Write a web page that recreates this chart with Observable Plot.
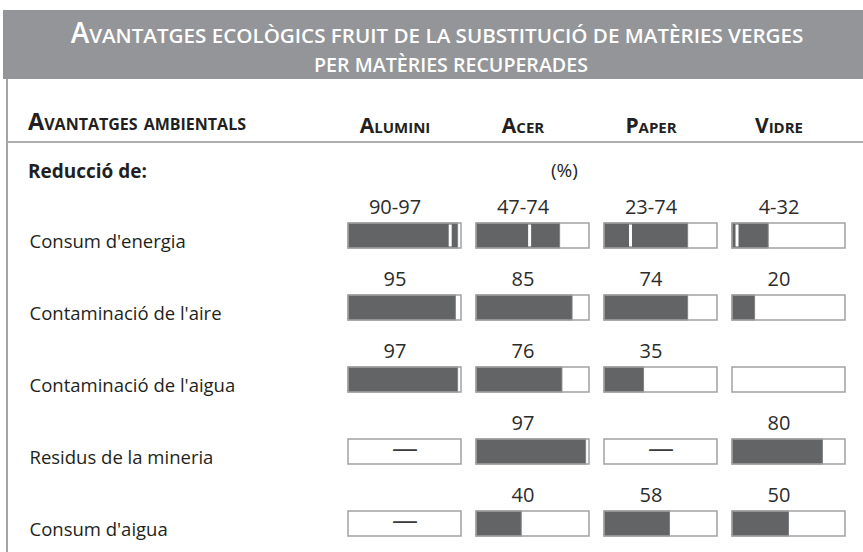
<!DOCTYPE html>
<html>
<head>
<meta charset="utf-8">
<script src="https://cdn.jsdelivr.net/npm/d3@7"></script>
<script src="https://cdn.jsdelivr.net/npm/@observablehq/plot@0.6"></script>
<style>
  html, body { margin: 0; padding: 0; background: #fff; }
  body { width: 863px; height: 552px; position: relative; overflow: hidden; font-family: "Open Sans", sans-serif; color: #231f20; }
  #band { position: absolute; left: 3px; top: 10px; width: 860px; height: 69px; background: #939598; }
  .tline { position: absolute; left: 3px; width: 860px; text-align: center; color: #fff; font-weight: 600; font-size: 20.6px; line-height: 29px; white-space: nowrap; }
  .tline .big { font-size: 28px; }
  .tline .sc { text-transform: uppercase; }
  #vline { position: absolute; left: 6px; top: 79px; width: 2px; height: 473px; background: #a3a4a6; }
  #hline { position: absolute; left: 7px; top: 141px; width: 856px; height: 2px; background: #acadaf; }
  .abs { position: absolute; white-space: nowrap; line-height: 1; }
  #chart { position: absolute; left: 0; top: 79px; }
</style>
</head>
<body>
<div id="band"></div>
<div class="tline" style="top:17.5px;padding-left:8px;box-sizing:border-box"><span class="big">A</span><span class="sc">vantatges ecològics fruit de la substitució de matèries verges</span></div>
<div class="tline" style="top:49.5px;padding-left:36px;box-sizing:border-box;font-size:19.6px"><span class="sc">per matèries recuperades</span></div>
<div id="vline"></div>
<div id="hline"></div>
<div class="abs" id="colhead" style="left:28px;top:110px;font-size:23.5px;font-weight:bold;font-variant:small-caps;">Avantatges ambientals</div>
<div class="abs" style="left:28px;top:162px;font-size:19px;font-weight:bold;">Reducció de:</div>
<div class="abs" style="left:551px;top:161.4px;font-size:19px;">(%)</div>
<div id="chart"></div>
<script>
// ---- data ----
const materials = ["Alumini", "Acer", "Paper", "Vidre"];
const rows = [
  "Consum d'energia",
  "Contaminació de l'aire",
  "Contaminació de l'aigua",
  "Residus de la mineria",
  "Consum d'aigua"
];
// reduction (%) per row; null = no value
const aluminiValues = [97, 95, 97, null, null];
const acerValues    = [74, 85, 76, 97, 40];
const paperValues   = [74, 74, 35, null, 58];
const vidreValues   = [32, 20, null, 80, 50];
// lower bound of the "Consum d'energia" ranges (Alumini, Acer, Paper, Vidre)
const energyLow = [90, 47, 23, 4];
// cells shown as "—" (no data)
const dashCells = [
  ["Alumini", "Residus de la mineria"],
  ["Paper", "Residus de la mineria"],
  ["Alumini", "Consum d'aigua"]
];

// ---- table ----
const valuesByMaterial = {Alumini: aluminiValues, Acer: acerValues, Paper: paperValues, Vidre: vidreValues};
const cells = materials.flatMap((m, j) => rows.map((r, i) => {
  const high = valuesByMaterial[m][i];
  const low = i === 0 ? energyLow[j] : null;
  const label = high == null ? "" : (low != null ? `${low}-${high}` : `${high}`);
  return {material: m, row: r, high, low, label};
}));
const filled = cells.filter(d => d.high != null);
const ranged = cells.filter(d => d.low != null);
const dashes = dashCells.map(([material, row]) => ({material, row, text: "—"}));

const chart = Plot.plot({
  width: 863,
  height: 473,
  marginLeft: 347,
  marginRight: 18,
  marginTop: 143,
  marginBottom: 15.4,
  style: {fontFamily: "'Open Sans', sans-serif", color: "#231f20", background: "transparent", overflow: "visible"},
  fx: {domain: materials, paddingInner: 0.12, paddingOuter: 0, axis: null},
  x: {domain: [0, 100], axis: null},
  y: {domain: rows, paddingInner: 0.655, paddingOuter: 0, axis: null},
  marks: [
    Plot.barX(cells, {fx: "material", y: "row", x1: 0, x2: 100, fill: "white"}),
    Plot.barX(filled, {fx: "material", y: "row", x1: 0, x2: "high", fill: "#636466", stroke: "#7f8082", strokeWidth: 1}),
    Plot.tickX(ranged, {fx: "material", y: "row", x: "low", stroke: "white", strokeWidth: 3, insetTop: 1.5, insetBottom: 1.5}),
    Plot.barX(cells, {fx: "material", y: "row", x1: 0, x2: 100, fill: "none", stroke: "#a0a1a3", strokeWidth: 1.5}),
    Plot.text(dashes, {fx: "material", y: "row", text: "text", frameAnchor: "middle", dy: -3, fontSize: 26, fill: "#3a3a3a"}),
    Plot.text(filled, {fx: "material", y: "row", text: "label", frameAnchor: "middle", dx: -10, dy: -28, fontSize: 20, fill: "#2b2b2b"}),
    Plot.text(rows, {fx: () => materials[0], y: d => d, text: d => d, frameAnchor: "left", textAnchor: "start", dx: 28 - 347, dy: 6, fontSize: 18.5, fill: "#231f20"}),
    Plot.text(materials, {fx: d => d, text: d => d, frameAnchor: "top", dx: -10, dy: -104.5, fontSize: 21, fontWeight: "bold", fontVariant: "small-caps", fill: "#231f20"})
  ]
});
document.getElementById("chart").appendChild(chart);
</script>
</body>
</html>
